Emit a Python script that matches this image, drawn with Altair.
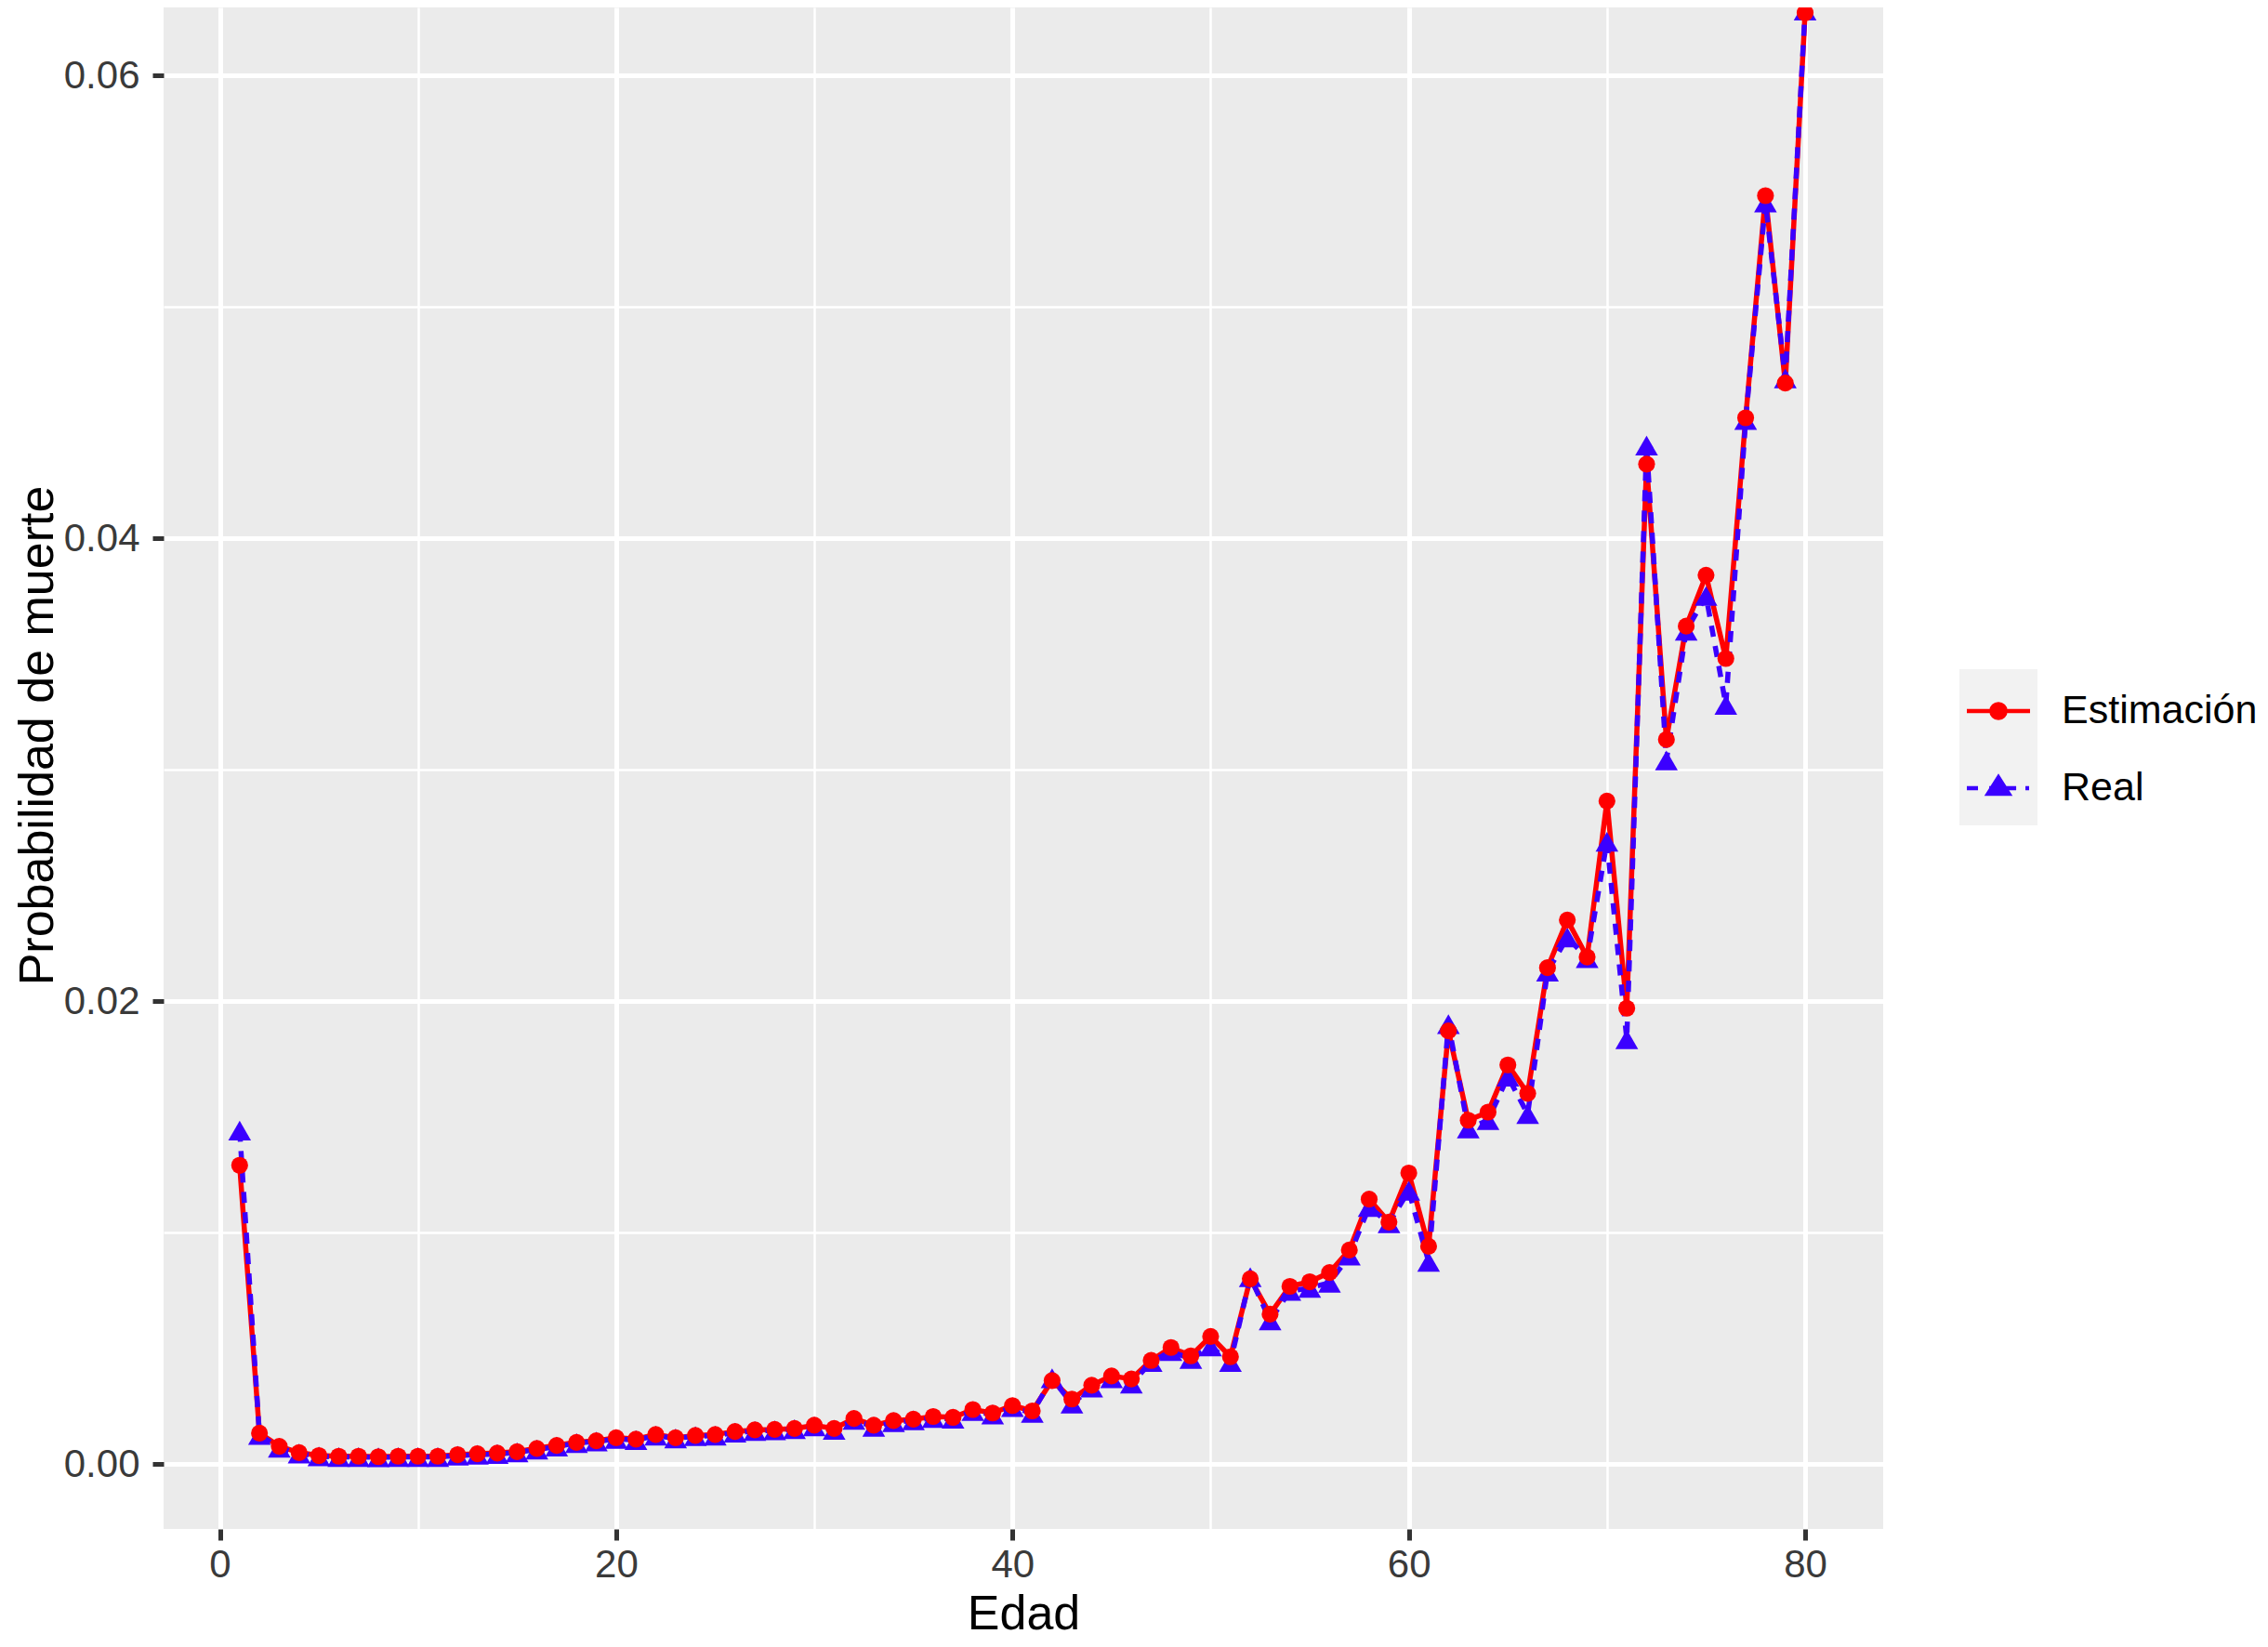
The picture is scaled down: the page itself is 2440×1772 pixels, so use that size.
import altair as alt
import pandas as pd

# ---- data ----
edad = list(range(1, 81))

estimacion = [
    0.0129, 0.00133, 0.00076, 0.00049, 0.00036, 0.00033, 0.00033, 0.00031, 0.00033, 0.00033,
    0.00033, 0.00040, 0.00044, 0.00047, 0.00053, 0.00067, 0.00080, 0.00093, 0.00100, 0.00113,
    0.00107, 0.00127, 0.00113, 0.00123, 0.00127, 0.00140, 0.00147, 0.00149, 0.00153, 0.00167,
    0.00153, 0.00196, 0.00167, 0.00187, 0.00193, 0.00205, 0.00201, 0.00235, 0.00220, 0.00252,
    0.00229, 0.00360, 0.00280, 0.00340, 0.00380, 0.00367, 0.00447, 0.00503, 0.00467, 0.00551,
    0.00463, 0.00800, 0.00647, 0.00767, 0.00787, 0.00827, 0.00924, 0.01144, 0.01045, 0.01257,
    0.00940, 0.01871, 0.01485, 0.01520, 0.01724, 0.01601, 0.02144, 0.02350, 0.02190, 0.02864,
    0.01969, 0.04320, 0.03130, 0.03620, 0.03840, 0.03480, 0.04520, 0.05480, 0.04670, 0.06270,
]

real = [
    0.0144, 0.00125, 0.00070, 0.00045, 0.00033, 0.00030, 0.00030, 0.00029, 0.00030, 0.00030,
    0.00030, 0.00036, 0.00040, 0.00043, 0.00050, 0.00062, 0.00075, 0.00090, 0.00097, 0.00108,
    0.00103, 0.00122, 0.00110, 0.00120, 0.00122, 0.00135, 0.00142, 0.00145, 0.00150, 0.00162,
    0.00147, 0.00190, 0.00160, 0.00180, 0.00188, 0.00198, 0.00195, 0.00228, 0.00213, 0.00245,
    0.00220, 0.00370, 0.00260, 0.00330, 0.00370, 0.00347, 0.00440, 0.00487, 0.00453, 0.00507,
    0.00440, 0.00807, 0.00620, 0.00747, 0.00760, 0.00783, 0.00900, 0.01110, 0.01040, 0.01180,
    0.00873, 0.01900, 0.01449, 0.01485, 0.01673, 0.01512, 0.02127, 0.02275, 0.02185, 0.02688,
    0.01835, 0.04400, 0.03040, 0.03600, 0.03750, 0.03280, 0.04510, 0.05450, 0.04690, 0.06280,
]

series = ["Estimación", "Real"]
colors = ["#FF0000", "#3B00FF"]
x_ticks = [0, 10, 20, 30, 40, 50, 60, 70, 80]
y_ticks = [0.0, 0.01, 0.02, 0.03, 0.04, 0.05, 0.06]

df = pd.concat([
    pd.DataFrame({"Edad": edad, "Prob": estimacion, "Serie": series[0]}),
    pd.DataFrame({"Edad": edad, "Prob": real, "Serie": series[1]}),
], ignore_index=True)

FONT = "Liberation Sans"
LW = 5.5
TICK_FS = 42
TITLE_FS = 52

x_axis = alt.Axis(
    values=x_ticks,
    title="Edad",
    titleFontSize=TITLE_FS, titleFont=FONT, titleColor="black", titleFontWeight="normal",
    titleX=925, titleY=107, titleBaseline="alphabetic", titleAlign="center",
    labelFontSize=TICK_FS, labelFont=FONT, labelColor="#3a3a3a", labelPadding=6,
    labelExpr="datum.value % 20 === 0 ? datum.label : ''",
    labelFlush=False, labelOverlap=False,
    domain=False, tickSize=12, tickWidth=5, tickColor="#333333",
    tickOpacity={"condition": {"test": "datum.value % 20 === 0", "value": 1}, "value": 0},
    grid=True, gridColor="white",
    gridWidth={"condition": {"test": "datum.value % 20 === 0", "value": 5}, "value": 2.5},
)

y_axis = alt.Axis(
    values=y_ticks,
    format=".2f",
    title="Probabilidad de muerte",
    titleFontSize=TITLE_FS, titleFont=FONT, titleColor="black", titleFontWeight="normal",
    titleX=-120, titleY=783, titleAngle=270, titleBaseline="alphabetic", titleAlign="center",
    labelFontSize=TICK_FS, labelFont=FONT, labelColor="#3a3a3a", labelPadding=14,
    labelExpr="round(datum.value * 100) % 2 === 0 ? datum.label : ''",
    labelOverlap=False,
    domain=False, tickSize=12, tickWidth=5, tickColor="#333333",
    tickOpacity={"condition": {"test": "round(datum.value * 100) % 2 === 0", "value": 1}, "value": 0},
    grid=True, gridColor="white",
    gridWidth={"condition": {"test": "round(datum.value * 100) % 2 === 0", "value": 5}, "value": 2.5},
)

x_enc = alt.X("Edad:Q", scale=alt.Scale(domain=[-2.838, 83.94], nice=False, zero=False), axis=x_axis)
y_enc = alt.Y("Prob:Q", scale=alt.Scale(domain=[-0.002811, 0.062932], nice=False, zero=False), axis=y_axis)

base = alt.Chart(df).encode(x=x_enc, y=y_enc)

est_f = alt.datum.Serie == series[0]
real_f = alt.datum.Serie == series[1]

# draw order as in the reference: red line, blue dashed line, blue triangles, red circles
line_est = base.transform_filter(est_f).mark_line(strokeWidth=LW, color=colors[0])
line_real = base.transform_filter(real_f).mark_line(strokeWidth=LW, strokeDash=[12, 10], color=colors[1])
pt_real = base.transform_filter(real_f).mark_point(shape="triangle-up", filled=True, size=600,
                                                   opacity=1, color=colors[1])
pt_est = base.transform_filter(est_f).mark_point(shape="circle", filled=True, size=330,
                                                 opacity=1, color=colors[0])


# ---- legend keys in ggplot style: line + (stroke-filled) marker ----
def ring(r):
    return f"M{r},0A{r},{r},0,1,1,{-r},0A{r},{r},0,1,1,{r},0Z"


def tri(s, cy=0.003):
    return (f"M0,{cy - 0.293 * s:.4f}L{0.28 * s:.4f},{cy + 0.147 * s:.4f}"
            f"L{-0.28 * s:.4f},{cy + 0.147 * s:.4f}Z")


path_est = "M-0.855,0H0.855" + ring(0.19) + ring(0.09) + ring(0.02)
path_real = "M-0.855,0H-0.553M-0.25,0H0.48M0.73,0H0.83" + tri(1.0) + tri(0.55) + tri(0.15)

main_legend = alt.Legend(
    title=None, orient="none", legendX=1932, legendY=715, padding=0, zindex=2,
    symbolSize=6320, symbolStrokeWidth=4.5, symbolOpacity=1, symbolOffset=0,
    labelFont=FONT, labelFontSize=43, labelColor="black", labelOffset=26, labelLimit=0,
    rowPadding=19,
)

legend_layer = base.mark_point(filled=False, opacity=0).encode(
    color=alt.Color("Serie:N", scale=alt.Scale(domain=series, range=colors), legend=main_legend),
    shape=alt.Shape("Serie:N", scale=alt.Scale(domain=series, range=[path_est, path_real]),
                    legend=main_legend),
)

key_ids = ["k1", "k2"]
key_bg_legend = alt.Legend(
    title=None, orient="none", legendX=1932, legendY=712, padding=0, zindex=1,
    symbolType="square", symbolSize=7056, symbolStrokeWidth=0, symbolOpacity=1, symbolOffset=0,
    labelExpr="''", labelFontSize=10, rowPadding=0,
)

key_bg_layer = base.transform_calculate(
    Clave="datum.Serie === 'Real' ? 'k2' : 'k1'"
).mark_square(opacity=0).encode(
    fill=alt.Fill("Clave:N", scale=alt.Scale(domain=key_ids, range=["#F2F2F2", "#F2F2F2"]),
                  legend=key_bg_legend),
)

chart = alt.layer(line_est, line_real, pt_real, pt_est, legend_layer, key_bg_layer).properties(
    width=1850, height=1637,
    autosize=alt.AutoSizeParams(type="none"),
    padding={"left": 168, "top": 0, "right": 406, "bottom": 119},
    background="white",
).configure(
    font=FONT
).configure_view(
    fill="#EBEBEB", strokeWidth=0
)

chart.save("out.html", embed_options={"renderer": "svg", "actions": False})
